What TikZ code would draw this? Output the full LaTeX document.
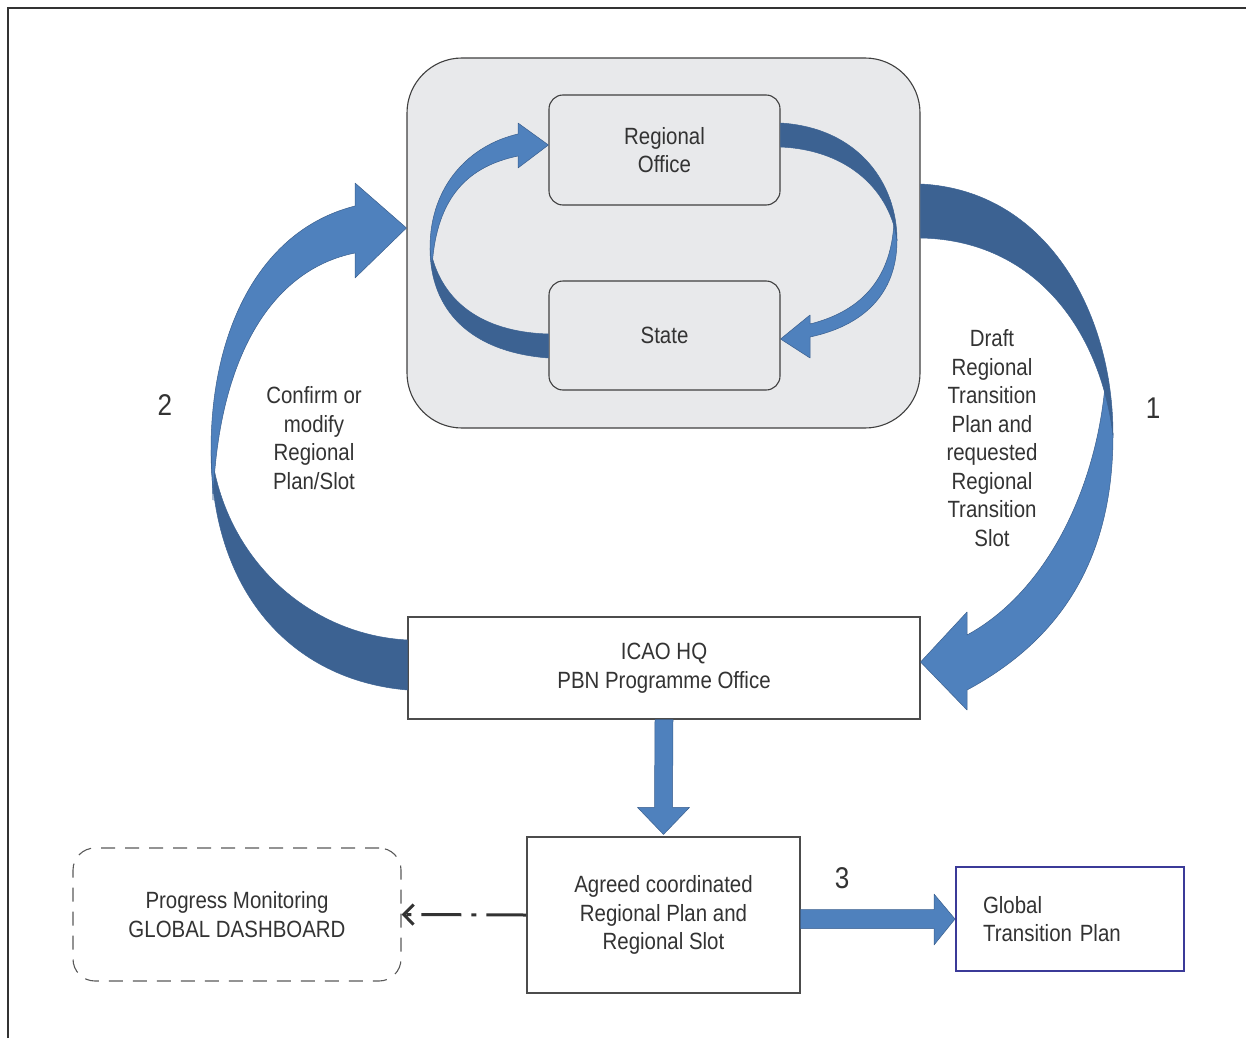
\documentclass[tikz,border=0pt]{standalone}
\usepackage{fontspec}
\setmainfont{Liberation Sans}[FakeStretch=0.87]
\usetikzlibrary{arrows.meta,calc}
\definecolor{lblue}{HTML}{4F81BD}
\definecolor{dblue}{HTML}{3C6292}
\definecolor{edgeb}{HTML}{3A5F8E}
\definecolor{boxfill}{HTML}{E8E9EB}
\definecolor{txt}{HTML}{333333}
\definecolor{gtp}{HTML}{3B3A98}
\begin{document}
\begin{tikzpicture}[x=1pt,y=-1pt,
  every node/.style={font=\fontsize{23.5}{28.5}\selectfont, text=txt, align=center, inner sep=0pt},
  graybox/.style={draw=black!75, line width=1.1pt, fill=boxfill},
  plainbox/.style={draw=black!70, line width=1.1pt, fill=white},
  light/.style={fill=lblue, draw=edgeb, line width=0.5pt, line join=round},
  dark/.style={fill=dblue, draw=dblue, line width=0.5pt, line join=round},
  num/.style={font=\fontsize{30}{32}\selectfont}]
\useasboundingbox (0,0) rectangle (1246,1038);
\draw[line width=1.6pt, black!80] (8,1038) -- (8,8) -- (1246,8);

% boxes
\node[graybox, rounded corners=55pt, minimum width=513pt, minimum height=370pt] (grp) at (663.5,243) {};
\node[graybox, rounded corners=14pt, minimum width=231pt, minimum height=110pt] (ro) at (664.5,150) {Regional\\Office};
\node[graybox, rounded corners=14pt, minimum width=231pt, minimum height=109pt] (st) at (664.5,335.5) {State};
\node[plainbox, minimum width=512pt, minimum height=102pt] (hq) at (664,668) {ICAO HQ\\PBN Programme Office};
\node[plainbox, minimum width=273pt, minimum height=156pt] (ag) at (663.5,915) {Agreed coordinated\\Regional Plan and\\Regional Slot};
\node[draw=gtp, line width=2pt, fill=white, minimum height=104pt, text width=174pt, inner xsep=27pt, align=left] (gl) at (1070,919) {Global\\Transition Plan};
\node[draw=black!65, line width=1.1pt, dash pattern=on 14pt off 10pt, rounded corners=22pt, minimum width=328pt, minimum height=133pt] (pm) at (237,914.5) {Progress Monitoring\\GLOBAL DASHBOARD};

% labels
\node (l2) at (314,438) {Confirm or\\modify\\Regional\\Plan/Slot};
\node (l1) at (992,438) {Draft\\Regional\\Transition\\Plan and\\requested\\Regional\\Transition\\Slot};
\node[num] (n1) at (1153,408) {1};
\node[num] (n2) at (165,405) {2};
\node[num] (n3) at (842,878) {3};

% big right arrow (1): Regional level -> ICAO HQ
\path[light] (1106,372) -- (1113,435) .. controls (1113,560) and (1060,640) .. (967,690)
  -- (967,710) -- (hq.east |- 0,662) -- (967,612) -- (967,635)
  .. controls (1050,590) and (1100,480) .. (1106,372) -- cycle;
\path[dark] (grp.east |- 0,184) .. controls (1045,190) and (1113,310) .. (1113,435)
  .. controls (1100,330) and (1035,240) .. (grp.east |- 0,238) -- cycle;

% big left arrow (2): ICAO HQ -> Regional level
\path[dark] (211,450) .. controls (211,590) and (290,680) .. (hq.west |- 0,690)
  -- (hq.west |- 0,640) .. controls (310,635) and (224,560) .. (211,450) -- cycle;
\path[light] (213,500) -- (211,450) .. controls (211,330) and (260,230) .. (355,206)
  -- (355,183) -- (grp.west |- 0,228) -- (355,278) -- (355,253)
  .. controls (270,270) and (218,360) .. (213,500) -- cycle;

% inner left arrow (State -> Regional Office)
\path[dark] (430,248) .. controls (430,310) and (470,352) .. (st.west |- 0,358)
  -- (st.west |- 0,334) .. controls (480,332) and (440,300) .. (430,248) -- cycle;
\path[light] (432,268) -- (430,248) .. controls (430,185) and (470,145) .. (518,134)
  -- (518,123) -- (ro.west |- 0,145) -- (518,168) -- (518,156)
  .. controls (470,166) and (436,195) .. (432,268) -- cycle;

% inner right arrow (Regional Office -> State)
\path[light] (894,222) -- (897,240) .. controls (897,295) and (862,326) .. (810,337)
  -- (810,358) -- (st.east |- 0,339) -- (810,315) -- (810,324)
  .. controls (858,312) and (891,282) .. (894,222) -- cycle;
\path[dark] (ro.east |- 0,123) .. controls (860,128) and (897,185) .. (897,240)
  .. controls (890,192) and (850,150) .. (ro.east |- 0,147) -- cycle;

% down arrow
\path[light] ($(hq.south)+(-9,0)$) -- ($(hq.south)+(9,0)$) -- ($(ag.north)+(9,-29)$)
  -- ($(ag.north)+(26,-29)$) -- ($(ag.north)+(0,-2)$) -- ($(ag.north)+(-26,-29)$)
  -- ($(ag.north)+(-9,-29)$) -- cycle;

% arrow 3
\coordinate (a3s) at (ag.east |- gl.west);
\path[light] ($(a3s)+(0,-9.5)$) -- ($(gl.west)+(-21,-9.5)$) -- ($(gl.west)+(-21,-25)$)
  -- (gl.west) -- ($(gl.west)+(-21,26)$) -- ($(gl.west)+(-21,9.5)$) -- ($(a3s)+(0,9.5)$) -- cycle;

% dash-dot arrow
\draw[line width=3pt, black!80, dash pattern=on 40pt off 10pt on 5pt off 10pt,
  -{Straight Barb[length=10pt,width=20pt]}] (ag.west) -- (pm.east);
\end{tikzpicture}
\end{document}
